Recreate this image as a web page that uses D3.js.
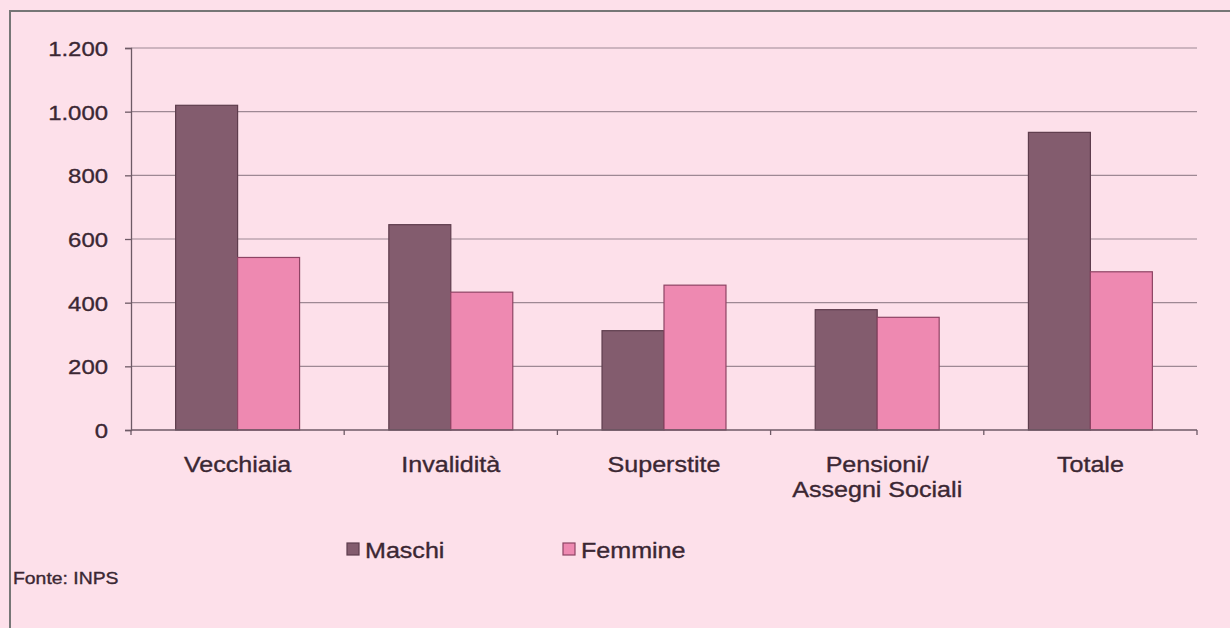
<!DOCTYPE html>
<html>
<head>
<meta charset="utf-8">
<script src="https://cdn.jsdelivr.net/npm/d3@7"></script>
<style>
  html, body { margin: 0; padding: 0; background: #ffffff; }
  svg { display: block; }
  text { font-family: "Liberation Sans", Arial, sans-serif; fill: #3b2733; stroke: #3b2733; stroke-width: 0.35px; }
</style>
</head>
<body>
<svg id="chart" width="1230" height="628"></svg>
<script>
// Average pension amounts by type and gender
const categories = [["Vecchiaia"], ["Invalidità"], ["Superstite"], ["Pensioni/", "Assegni Sociali"], ["Totale"]];
const maschi = [1020, 645, 312, 378, 935];
const femmine = [542, 433, 455, 354, 497];
const seriesNames = ["Maschi", "Femmine"];
const seriesColors = ["#835c6e", "#ee89b1"];
const seriesStroke = ["#5e3d4d", "#8e4464"];
const yTicks = [0, 200, 400, 600, 800, 1000, 1200];
const source = "Fonte: INPS";

// text is drawn slightly widened
const SX = 1.14;
const FONT = 22;

const svg = d3.select("#chart");

// panel background and frame
svg.append("rect").attr("x", 0).attr("y", 0).attr("width", 1230).attr("height", 628).attr("fill", "#fde0ea");
svg.append("rect").attr("x", 10).attr("y", 11).attr("width", 1240).attr("height", 640)
  .attr("fill", "none").attr("stroke", "#767676").attr("stroke-width", 2);

const plot = { left: 131, right: 1197, top: 48, bottom: 430 };

const x = d3.scaleBand().domain(d3.range(categories.length)).range([plot.left, plot.right]);
const inner = d3.scaleBand().domain(d3.range(seriesNames.length)).range([0, x.bandwidth()]).paddingOuter(0.72).paddingInner(0);
const y = d3.scaleLinear().domain([0, 1200]).range([plot.bottom, plot.top]);

const fmt = v => d3.format(",")(v).replace(/,/g, ".");

// place a widened text at (px, py)
function widen(sel, px, py) {
  sel.attr("x", 0).attr("y", 0).attr("transform", (d, i) => `translate(${px(d, i)},${py(d, i)}) scale(${SX},1)`);
}

// gridlines
svg.append("g").selectAll("line").data(yTicks.filter(d => d > 0)).join("line")
  .attr("x1", plot.left).attr("x2", plot.right)
  .attr("y1", d => y(d)).attr("y2", d => y(d))
  .attr("stroke", "#9e8894").attr("stroke-width", 1.2);

// y axis
const yAxis = svg.append("g").attr("transform", `translate(${plot.left},0)`)
  .call(d3.axisLeft(y).tickValues(yTicks).tickFormat(fmt).tickSize(6).tickPadding(17));
yAxis.attr("font-family", null).attr("font-size", null);
yAxis.select(".domain").attr("stroke", "#6e5a66").attr("stroke-width", 1.3);
yAxis.selectAll(".tick line").attr("stroke", "#6e5a66").attr("stroke-width", 1.3);
yAxis.selectAll(".tick text")
  .attr("font-size", FONT - 1).attr("fill", "#3b2733")
  .attr("x", -(6 + 17) / SX).attr("dy", "0.35em")
  .attr("transform", `scale(${SX},1)`);

// bars
const data = categories.map((c, i) => [maschi[i], femmine[i]]);
const groups = svg.append("g").selectAll("g").data(data).join("g")
  .attr("transform", (d, i) => `translate(${x(i)},0)`);
groups.selectAll("rect").data(d => d).join("rect")
  .attr("x", (d, j) => inner(j))
  .attr("width", inner.bandwidth())
  .attr("y", d => y(d))
  .attr("height", d => y(0) - y(d))
  .attr("fill", (d, j) => seriesColors[j])
  .attr("stroke", (d, j) => seriesStroke[j])
  .attr("stroke-width", 1.2);

// x axis
const xAxisLine = svg.append("g");
xAxisLine.append("line").attr("x1", plot.left).attr("x2", plot.right)
  .attr("y1", y(0)).attr("y2", y(0)).attr("stroke", "#6e5a66").attr("stroke-width", 1.3);
xAxisLine.selectAll(".xt").data(d3.range(categories.length + 1)).join("line")
  .attr("class", "xt")
  .attr("x1", i => plot.left + i * x.step()).attr("x2", i => plot.left + i * x.step())
  .attr("y1", y(0)).attr("y2", y(0) + 5)
  .attr("stroke", "#6e5a66").attr("stroke-width", 1.3);

// category labels
const labels = svg.append("g").selectAll("text").data(categories).join("text")
  .attr("text-anchor", "middle")
  .attr("font-size", FONT);
widen(labels, (d, i) => x(i) + x.bandwidth() / 2, () => 472);
labels.selectAll("tspan").data(d => d).join("tspan")
  .attr("x", 0)
  .attr("dy", (d, k) => k === 0 ? 0 : 25)
  .text(d => d);

// legend
const legendX = [347, 563];
const legend = svg.append("g").selectAll("g").data(seriesNames).join("g")
  .attr("transform", (d, i) => `translate(${legendX[i]},558)`);
legend.append("rect").attr("x", 0).attr("y", -15).attr("width", 12).attr("height", 12)
  .attr("fill", (d, i) => seriesColors[i]).attr("stroke", (d, i) => seriesStroke[i]).attr("stroke-width", 1.2);
const legendText = legend.append("text").attr("font-size", FONT).text(d => d);
widen(legendText, () => 18, () => 0);

// source note
const note = svg.append("text").attr("font-size", 17).datum(source).text(d => d);
widen(note, () => 13, () => 584);
</script>
</body>
</html>
